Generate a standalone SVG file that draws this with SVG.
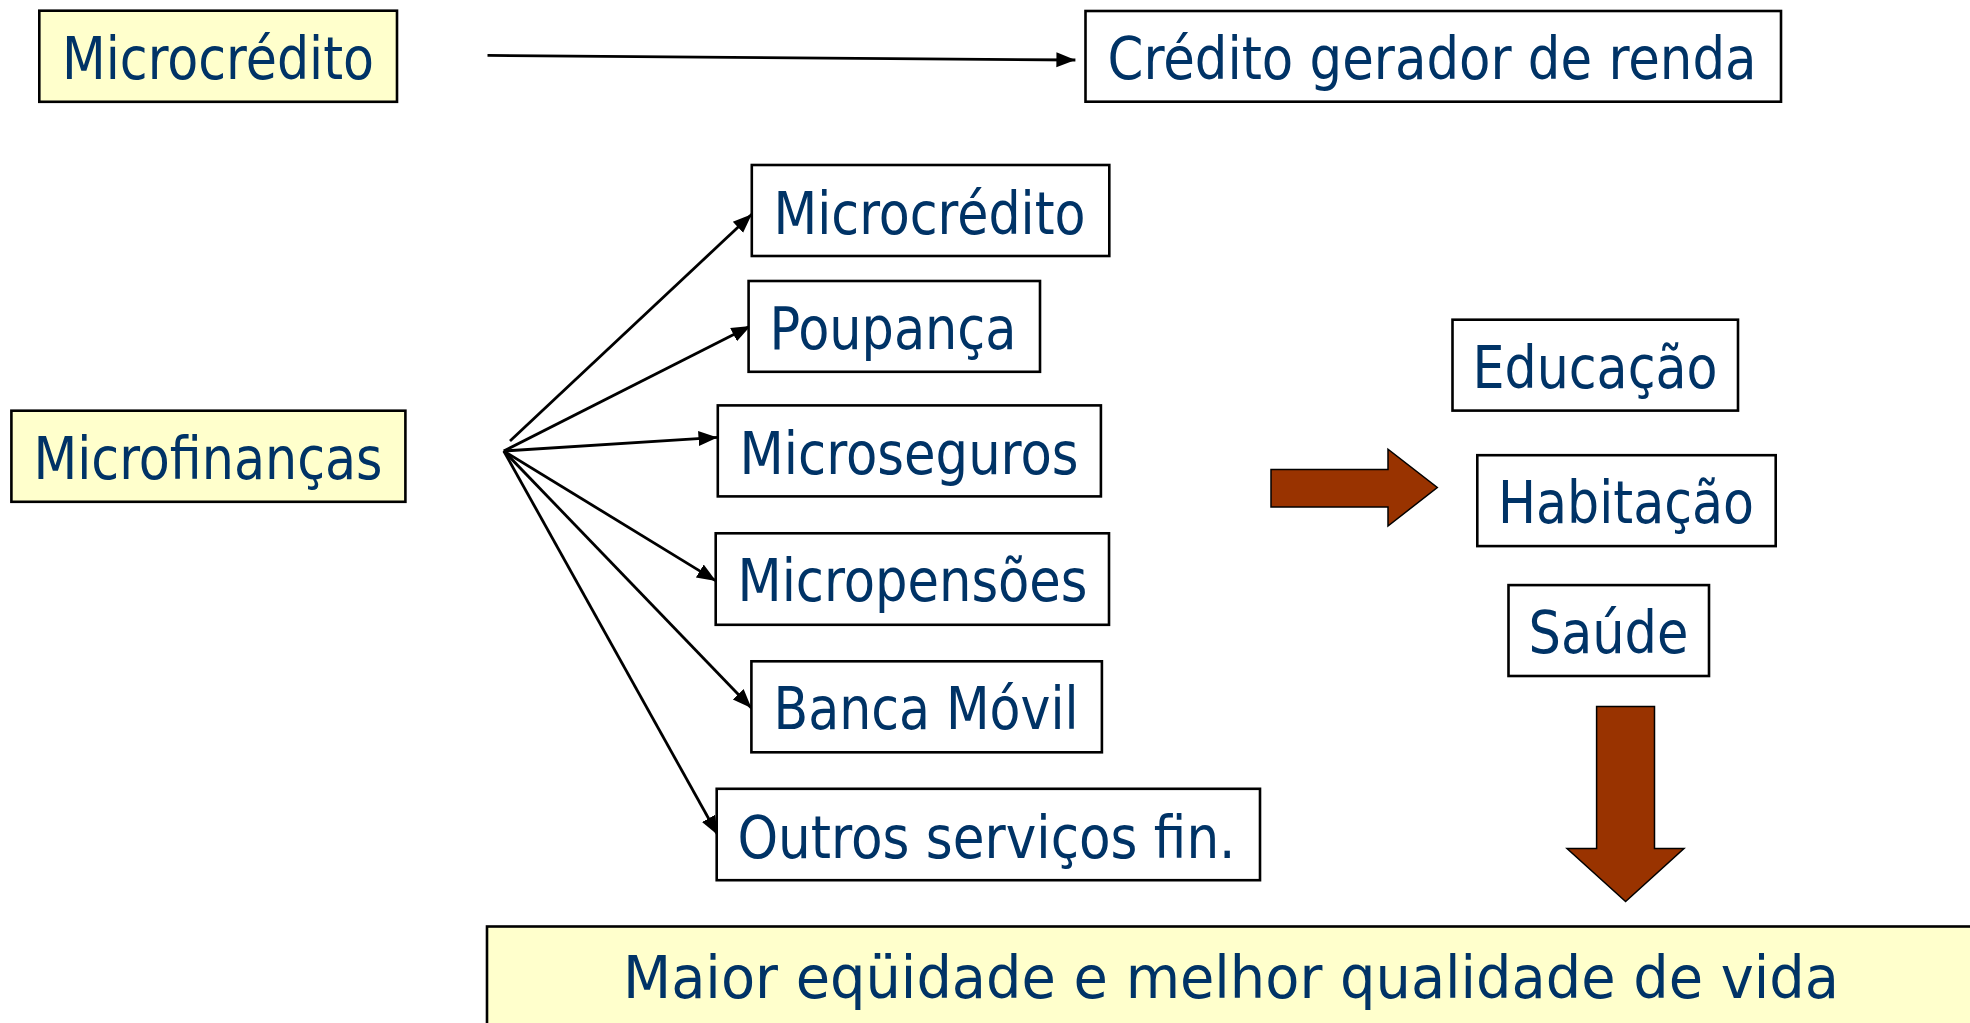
<svg xmlns="http://www.w3.org/2000/svg" width="1970" height="1023" viewBox="0 0 1970 1023">
<style>
.box{fill:#FFFFFF;stroke:#000000;stroke-width:2.6}
.ybox{fill:#FFFFCC;stroke:#000000;stroke-width:2.6}
.t{font-family:"DejaVu Sans Condensed","DejaVu Sans",sans-serif;font-stretch:condensed;font-size:58px;fill:#003366}
.con{stroke:#000000;stroke-width:2.8;fill:none}
.big{fill:#993300;stroke:#000000;stroke-width:1.5}
</style>
<defs>
<marker id="ah" markerUnits="userSpaceOnUse" markerWidth="20" markerHeight="18" viewBox="0 0 20 18" refX="19" refY="9" orient="auto">
<path d="M0,1.5 L19,9 L0,16.5 Z" fill="#000000"/>
</marker>
</defs>
<rect width="1970" height="1023" fill="#FFFFFF"/>

<g id="connectors">
<line class="con" x1="487.5" y1="55.4" x2="1075.4" y2="60" marker-end="url(#ah)"/>
<line class="con" x1="510" y1="441" x2="751.8" y2="214.3" marker-end="url(#ah)"/>
<line class="con" x1="503.8" y1="451" x2="750.5" y2="326" marker-end="url(#ah)"/>
<line class="con" x1="503.8" y1="451" x2="717.5" y2="437.4" marker-end="url(#ah)"/>
<line class="con" x1="503.8" y1="451" x2="716" y2="580.9" marker-end="url(#ah)"/>
<line class="con" x1="503.8" y1="451" x2="751.4" y2="708" marker-end="url(#ah)"/>
<line class="con" x1="503.8" y1="451" x2="717.8" y2="835" marker-end="url(#ah)"/>
</g>

<g id="n-microcredito-top">
<rect class="ybox" x="39.3" y="10.7" width="357.7" height="91.1"/>
<text class="t" x="62" y="79.3" textLength="312" lengthAdjust="spacingAndGlyphs">Microcrédito</text>
</g>
<g id="n-credito-gerador">
<rect class="box" x="1085.5" y="11" width="695.5" height="90.7"/>
<text class="t" x="1107.5" y="79.3" textLength="649" lengthAdjust="spacingAndGlyphs">Crédito gerador de renda</text>
</g>
<g id="n-microfinancas">
<rect class="ybox" x="11.4" y="410.7" width="394" height="91.1"/>
<text class="t" x="33.5" y="479.3" textLength="349" lengthAdjust="spacingAndGlyphs">Microfinanças</text>
</g>
<g id="n-microcredito">
<rect class="box" x="751.8" y="165" width="357.5" height="91"/>
<text class="t" x="773.5" y="234" textLength="312" lengthAdjust="spacingAndGlyphs">Microcrédito</text>
</g>
<g id="n-poupanca">
<rect class="box" x="748.6" y="281" width="291.4" height="90.8"/>
<text class="t" x="769.5" y="349.3" textLength="247" lengthAdjust="spacingAndGlyphs">Poupança</text>
</g>
<g id="n-microseguros">
<rect class="box" x="717.8" y="405.4" width="383.1" height="91"/>
<text class="t" x="739.5" y="473.5" textLength="339" lengthAdjust="spacingAndGlyphs">Microseguros</text>
</g>
<g id="n-micropensoes">
<rect class="box" x="715.7" y="533.3" width="393.3" height="91.5"/>
<text class="t" x="737.5" y="601.4" textLength="350" lengthAdjust="spacingAndGlyphs">Micropensões</text>
</g>
<g id="n-banca-movil">
<rect class="box" x="751.4" y="661.3" width="350.5" height="91"/>
<text class="t" x="773.5" y="729.3" textLength="305" lengthAdjust="spacingAndGlyphs">Banca Móvil</text>
</g>
<g id="n-outros">
<rect class="box" x="716.7" y="788.8" width="543.3" height="91.4"/>
<text class="t" x="737.5" y="857.6" textLength="498" lengthAdjust="spacingAndGlyphs">Outros serviços fin.</text>
</g>
<g id="n-educacao">
<rect class="box" x="1452.5" y="319.7" width="285.5" height="90.9"/>
<text class="t" x="1472.5" y="387.7" textLength="245" lengthAdjust="spacingAndGlyphs">Educação</text>
</g>
<g id="n-habitacao">
<rect class="box" x="1477.3" y="455.2" width="298.4" height="90.9"/>
<text class="t" x="1498" y="523.2" textLength="256" lengthAdjust="spacingAndGlyphs">Habitação</text>
</g>
<g id="n-saude">
<rect class="box" x="1508.5" y="585.1" width="200.5" height="90.9"/>
<text class="t" x="1528.5" y="653.2" textLength="160" lengthAdjust="spacingAndGlyphs">Saúde</text>
</g>

<g id="n-arrow-right">
<path class="big" d="M1271,469.5 L1388,469.5 L1388,449.2 L1437.3,487.5 L1388,526 L1388,507 L1271,507 Z"/>
</g>
<g id="n-arrow-down">
<path class="big" d="M1596.6,706.5 L1654.5,706.5 L1654.5,848.6 L1684,848.6 L1625.6,901.5 L1567,848.6 L1596.6,848.6 Z"/>
</g>

<g id="n-resultado">
<rect class="ybox" x="487" y="926.5" width="1500" height="120"/>
<text class="t" x="623" y="998" textLength="1216" lengthAdjust="spacingAndGlyphs">Maior eqüidade e melhor qualidade de vida</text>
</g>
</svg>
